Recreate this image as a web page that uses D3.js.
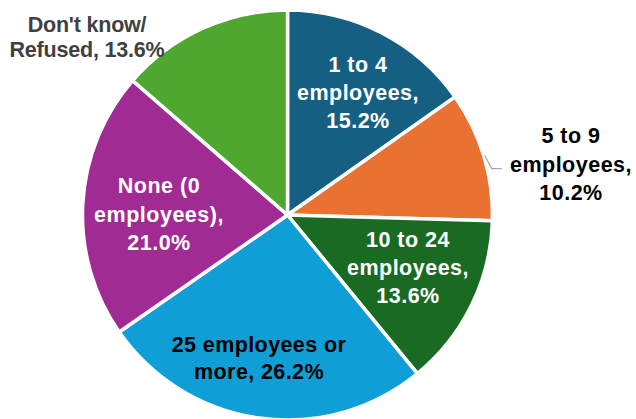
<!DOCTYPE html>
<html>
<head>
<meta charset="utf-8">
<script src="https://cdn.jsdelivr.net/npm/d3@7"></script>
<style>
  html, body { margin: 0; padding: 0; background: #fff; }
  svg { display: block; }
</style>
</head>
<body>
<svg id="chart" width="636" height="419"></svg>
<script>
// Company size shares (percent), clockwise from 12 o'clock
const categories = ["1 to 4 employees", "5 to 9 employees", "10 to 24 employees",
                    "25 employees or more", "None (0 employees)", "Don't know/Refused"];
const values = [15.2, 10.2, 13.6, 26.2, 21.0, 13.6];
// Label text, one entry per line
const labelLines = [
  ["1 to 4", "employees,", "15.2%"],
  ["5 to 9", "employees,", "10.2%"],
  ["10 to 24", "employees,", "13.6%"],
  ["25 employees or", "more, 26.2%"],
  ["None (0", "employees),", "21.0%"],
  ["Don't know/", "Refused, 13.6%"]
];

const colors = ["#156082", "#E97132", "#196B24", "#0F9ED5", "#A02B93", "#4EA72E"];
const textColors = ["#ffffff", "#000000", "#ffffff", "#000000", "#ffffff", "#404040"];
// Label placement: first-line baseline offset from the pie centre, line pitch, tracking
const labelLayout = [
  { dx: 70.5,  dy: -143, pitch: 28,   track: 0.5 },
  { dx: 283.5, dy: -72,  pitch: 28.5, track: 0.5 },
  { dx: 120.5, dy: 32,   pitch: 28,   track: 0.5 },
  { dx: -28.5, dy: 137,  pitch: 27,   track: 0.4 },
  { dx: -128.5, dy: -22, pitch: 28.5, track: 0.5 },
  { dx: -200.5, dy: -183, pitch: 25,  track: -0.2 }
];

const svg = d3.select("#chart");
const cx = 287.5, cy = 215, radius = 205;

const g = svg.append("g").attr("transform", `translate(${cx},${cy})`);

const pie = d3.pie().sort(null).value(d => d).startAngle(0).endAngle(2 * Math.PI);
const arcs = pie(values);
const arc = d3.arc().innerRadius(0).outerRadius(radius);

g.selectAll("path.slice")
  .data(arcs)
  .enter().append("path")
  .attr("class", "slice")
  .attr("d", arc)
  .attr("fill", (d, i) => colors[i])
  .attr("stroke", "#ffffff")
  .attr("stroke-width", 3.5)
  .attr("stroke-linejoin", "miter");

// Leader line for the small outside label
const a59 = arcs[1];
const mid = (a59.startAngle + a59.endAngle) / 2;
const pEdge = [Math.sin(mid) * (radius + 1), -Math.cos(mid) * (radius + 1)];
const pBend = [pEdge[0] + 7, pEdge[1] + 13];
g.append("polyline")
  .attr("points", [pEdge, pBend, [pBend[0] + 10, pBend[1]]].map(p => p.join(",")).join(" "))
  .attr("fill", "none")
  .attr("stroke", "#A6A6A6")
  .attr("stroke-width", 1.3);

const labels = g.selectAll("text.lbl")
  .data(arcs)
  .enter().append("text")
  .attr("class", "lbl")
  .attr("text-anchor", "middle")
  .attr("font-family", "'Liberation Sans', Arial, sans-serif")
  .attr("font-weight", "bold")
  .attr("font-size", 21.5)
  .attr("letter-spacing", (d, i) => labelLayout[i].track)
  .attr("fill", (d, i) => textColors[i]);

labels.each(function (d, i) {
  const t = d3.select(this);
  const L = labelLayout[i];
  labelLines[i].forEach((line, k) => {
    t.append("tspan")
      .attr("x", L.dx)
      .attr("y", L.dy + k * L.pitch)
      .text(line);
  });
});
</script>
</body>
</html>
